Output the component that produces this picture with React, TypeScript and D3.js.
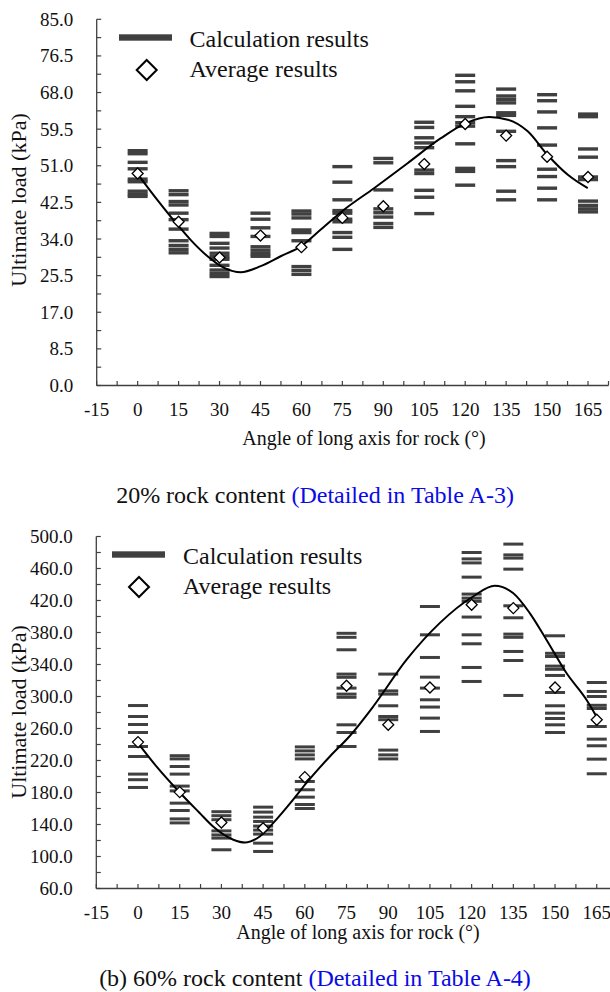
import React from 'react';
import * as d3 from 'd3';

// Angles of the rock long axis (degrees) at which loads were computed
const ANGLES = [0, 15, 30, 45, 60, 75, 90, 105, 120, 135, 150, 165];
const X_TICK_LABELS = [-15, 0, 15, 30, 45, 60, 75, 90, 105, 120, 135, 150, 165];

// 20% rock content: individual calculation results (kPa) per angle
const CALC_20: number[][] = [
  [54.5, 53.8, 51.8, 50.3, 47.9, 47.3, 45.1, 44.4, 43.9],
  [45.2, 44.3, 42.7, 41.9, 40.0, 38.5, 36.3, 33.6, 32.5, 31.6, 30.8],
  [35.3, 34.6, 33.0, 31.9, 30.7, 29.9, 29.3, 27.9, 26.8, 26.0, 25.3],
  [40.0, 38.6, 36.6, 34.6, 32.2, 31.4, 30.6, 30.0],
  [40.5, 39.8, 38.9, 36.1, 35.5, 33.6, 27.6, 26.7, 25.8],
  [50.8, 47.2, 43.1, 40.6, 40.0, 38.6, 38.0, 35.5, 34.4, 31.6],
  [52.7, 51.7, 45.4, 41.0, 40.1, 39.1, 37.6, 36.7],
  [61.1, 59.9, 57.5, 56.3, 55.2, 50.0, 49.2, 45.3, 43.7, 39.9],
  [72.0, 70.5, 68.4, 64.8, 62.4, 61.0, 60.2, 56.1, 50.4, 49.7, 46.5],
  [68.8, 67.2, 66.4, 65.6, 63.3, 62.7, 59.0, 52.2, 50.8, 45.1, 43.1],
  [67.5, 66.1, 63.5, 59.8, 55.8, 50.2, 48.5, 45.8, 43.1],
  [63.0, 62.4, 54.9, 53.0, 48.4, 47.8, 42.8, 41.8, 41.0, 40.3],
];
const AVG_20 = [49.2, 38.0, 29.7, 34.8, 32.1, 38.9, 41.6, 51.4, 60.7, 58.0, 53.1, 48.4];
// Fitted trend line for 20% rock content
const FIT_20_ANGLE = [0, 7.2, 14.6, 19.4, 25.6, 31.7, 37.8, 45.1, 52.4, 59.8, 67.1, 75.6, 86.6, 98.9, 111.1, 120.3, 128.8, 135.6, 142.9, 150.2, 157.6, 164.9];
const FIT_20_LOAD = [49.1, 43.1, 37.3, 33.8, 30.0, 27.3, 26.3, 27.7, 30.0, 32.3, 36.2, 40.8, 45.8, 51.6, 57.4, 60.9, 62.3, 61.7, 59.0, 53.5, 48.9, 45.8];
const Y_LABELS_20 = [0, 8.5, 17, 25.5, 34, 42.5, 51, 59.5, 68, 76.5, 85];

// 60% rock content: individual calculation results (kPa) per angle
const CALC_60: number[][] = [
  [288.7, 275, 265, 255, 237.5, 225, 203, 196, 186.3],
  [226, 222, 212.5, 203, 188, 182, 166.7, 157.5, 147, 142],
  [156, 151, 146, 132, 127, 123, 108.4],
  [161.7, 155.5, 149.2, 143.8, 138, 133, 128, 116.7, 106.3],
  [237, 232, 227, 222, 193.8, 183.4, 174.2, 165, 160],
  [379, 374, 358.4, 328, 324, 310.5, 303, 299, 264.6, 255, 237.5],
  [328, 307, 303, 288.4, 275, 271, 233, 227, 222],
  [412.5, 377.1, 348.8, 324.2, 310.5, 295.9, 286.8, 273, 256.3],
  [480, 472, 467, 449.2, 428, 423, 419, 399.3, 377.1, 365.9, 336.3, 318.8],
  [490.5, 477, 473, 459.2, 413.4, 398.4, 378, 374, 356.3, 345, 301.3],
  [375.9, 354, 350, 338, 334, 326.3, 305, 288.4, 279.2, 272.5, 264.6, 255],
  [317.5, 306.3, 300, 289, 285, 262.5, 246.7, 238.4, 221.7, 203.4],
];
const AVG_60 = [243, 180.5, 142.5, 135.4, 199.2, 313.4, 264.6, 311.3, 414.6, 410.5, 311.3, 270.9];
// Fitted trend line for 60% rock content
const FIT_60_ANGLE = [0, 7, 15, 22, 27, 34.3, 38.5, 43.8, 48.6, 55.8, 60.6, 69, 76, 84.6, 96.6, 108.5, 120.5, 128.3, 134.9, 140.9, 146.9, 154.1, 161.3, 164.9];
const FIT_60_LOAD = [241.7, 211, 180, 155, 137.5, 121, 117.5, 125, 141.7, 171, 192, 225, 250, 287.5, 346, 391.7, 425, 438.4, 429.3, 404.3, 371, 329.3, 296, 275];
const Y_LABELS_60 = [60, 100, 140, 180, 220, 260, 300, 340, 380, 420, 460, 500];

const FONT = '"Liberation Serif", "Times New Roman", Times, serif';
const INK = '#404040';
const BLUE = '#0a0ae6';

type PanelProps = {
  calc: number[][];
  avg: number[];
  fitAngle: number[];
  fitLoad: number[];
  yLabels: number[];
  yMinorStep: number;
  xRange: [number, number];
  yRange: [number, number];
  dashH: number;
  legend: { dashX: number; dashY: number; textX: number; diamondX: number; diamondY: number };
  xTitle: { x: number; y: number };
  yTitleY: number;
  caption: { prefix: string; link: string; y: number };
};

function Panel(p: PanelProps) {
  const yMin = p.yLabels[0];
  const yMax = p.yLabels[p.yLabels.length - 1];
  const x = d3.scaleLinear().domain([-15, 172.5]).range(p.xRange);
  const y = d3.scaleLinear().domain([yMin, yMax]).range(p.yRange);
  const x0 = p.xRange[0];
  const y0 = p.yRange[0];
  const yTicks = d3.range(yMin, yMax + 1e-6, p.yMinorStep);
  const xTicks = d3.range(-15, 172.5 + 1e-6, 7.5);
  const fmt = d3.format('.1f');
  const line = d3
    .line<number>()
    .x((_, i) => x(p.fitAngle[i]))
    .y((d) => y(d))
    .curve(d3.curveMonotoneX);
  const diamond = (cx: number, cy: number, r: number) =>
    `M${cx},${cy - r}L${cx + r},${cy}L${cx},${cy + r}L${cx - r},${cy}Z`;
  const dashW = 20;

  return (
    <g>
      {/* calculation results */}
      {p.calc.map((vals, i) =>
        vals.map((v, j) => (
          <rect
            key={`c${i}-${j}`}
            x={x(ANGLES[i]) - dashW / 2}
            y={y(v) - p.dashH / 2}
            width={dashW}
            height={p.dashH}
            fill={INK}
          />
        ))
      )}
      {/* fitted curve */}
      <path d={line(p.fitLoad) || ''} fill="none" stroke="#000" strokeWidth={2} />
      {/* averages */}
      {p.avg.map((v, i) => (
        <path key={`a${i}`} d={diamond(x(ANGLES[i]), y(v), 5.5)} fill="#fff" stroke="#000" strokeWidth={1.3} />
      ))}

      {/* axes */}
      <line x1={x0} x2={x0} y1={p.yRange[1]} y2={y0} stroke={INK} strokeWidth={1.3} />
      <line x1={x0} x2={p.xRange[1]} y1={y0} y2={y0} stroke={INK} strokeWidth={1.3} />
      {yTicks.map((t) => (
        <line key={`yt${t}`} x1={x0} x2={x0 + 4.5} y1={y(t)} y2={y(t)} stroke={INK} strokeWidth={1.2} />
      ))}
      {xTicks.map((t) => (
        <line key={`xt${t}`} x1={x(t)} x2={x(t)} y1={y0} y2={y0 - 4.5} stroke={INK} strokeWidth={1.2} />
      ))}
      {p.yLabels.map((t) => (
        <text key={`yl${t}`} x={x0 - 23.5} y={y(t) + 6.5} textAnchor="end" fontSize={19} fontFamily={FONT} fill="#111">
          {fmt(t)}
        </text>
      ))}
      {X_TICK_LABELS.map((t) => (
        <text key={`xl${t}`} x={x(t)} y={y0 + 30.5} textAnchor="middle" fontSize={19} fontFamily={FONT} fill="#111">
          {t}
        </text>
      ))}
      <text x={p.xTitle.x} y={p.xTitle.y} textAnchor="middle" fontSize={20} fontFamily={FONT} fill="#111">
        Angle of long axis for rock (°)
      </text>
      <text
        transform={`translate(26,${p.yTitleY}) rotate(-90)`}
        textAnchor="middle"
        fontSize={22}
        fontFamily={FONT}
        fill="#111"
      >
        Ultimate load (kPa)
      </text>

      {/* legend */}
      <rect x={p.legend.dashX} y={p.legend.dashY - 3.2} width={53} height={6.4} fill={INK} />
      <text x={p.legend.textX} y={p.legend.dashY + 9} fontSize={24} fontFamily={FONT} fill="#111">
        Calculation results
      </text>
      <path d={diamond(p.legend.diamondX, p.legend.diamondY, 10)} fill="#fff" stroke="#000" strokeWidth={2} />
      <text x={p.legend.textX} y={p.legend.diamondY + 6.7} fontSize={24} fontFamily={FONT} fill="#111">
        Average results
      </text>

      {/* caption */}
      <text x={315} y={p.caption.y} textAnchor="middle" fontSize={24} fontFamily={FONT} fill="#111">
        {p.caption.prefix}
        <tspan fill={BLUE}>{p.caption.link}</tspan>
      </text>
    </g>
  );
}

export default function App() {
  return (
    <svg
      width={610}
      height={992}
      viewBox="0 0 610 992"
      style={{ position: 'absolute', left: 0, top: 0, background: '#fff' }}
    >
      <rect width={610} height={992} fill="#fff" />
      <Panel
        calc={CALC_20}
        avg={AVG_20}
        fitAngle={FIT_20_ANGLE}
        fitLoad={FIT_20_LOAD}
        yLabels={Y_LABELS_20}
        yMinorStep={4.25}
        xRange={[96.7, 608.5]}
        yRange={[385.5, 19.3]}
        dashH={3.4}
        legend={{ dashX: 119, dashY: 37.5, textX: 189.5, diamondX: 146.7, diamondY: 70 }}
        xTitle={{ x: 364, y: 445 }}
        yTitleY={200}
        caption={{ prefix: '20% rock content ', link: '(Detailed in Table A-3)', y: 503 }}
      />
      <Panel
        calc={CALC_60}
        avg={AVG_60}
        fitAngle={FIT_60_ANGLE}
        fitLoad={FIT_60_LOAD}
        yLabels={Y_LABELS_60}
        yMinorStep={20}
        xRange={[96.3, 617.6]}
        yRange={[888.5, 536.5]}
        dashH={3}
        legend={{ dashX: 112, dashY: 554.5, textX: 183, diamondX: 139, diamondY: 587 }}
        xTitle={{ x: 358, y: 939 }}
        yTitleY={712}
        caption={{ prefix: '(b) 60% rock content ', link: '(Detailed in Table A-4)', y: 986 }}
      />
    </svg>
  );
}
